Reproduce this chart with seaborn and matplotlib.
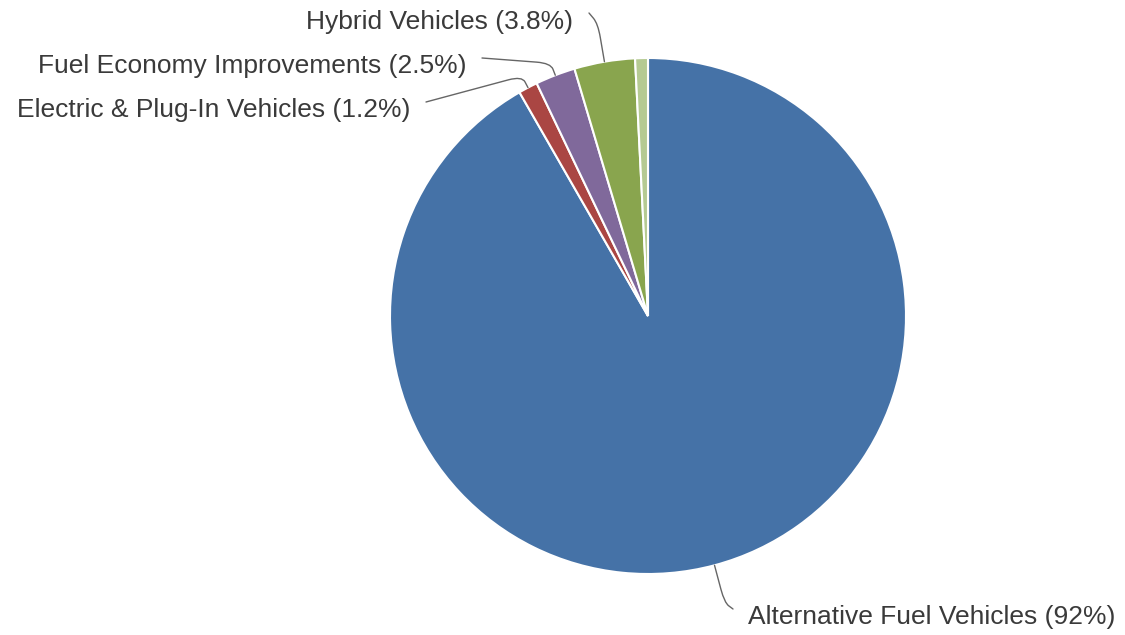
import numpy as np
import matplotlib
matplotlib.use("Agg")
import matplotlib.pyplot as plt
from matplotlib.path import Path
from matplotlib.patches import PathPatch
import seaborn as sns

# ---- data ----
categories = ["Alternative Fuel Vehicles", "Electric & Plug-In Vehicles",
              "Fuel Economy Improvements", "Hybrid Vehicles", "Other"]
shares = [91.7, 1.2, 2.5, 3.8, 0.8]
label_texts = ["Alternative Fuel Vehicles (92%)", "Electric & Plug-In Vehicles (1.2%)",
               "Fuel Economy Improvements (2.5%)", "Hybrid Vehicles (3.8%)", None]
colors = ["#4572A7", "#AA4643", "#80699B", "#89A54E", "#B5CA92"]

sns.set_theme(style="white")
plt.rcParams["font.family"] = ["Liberation Sans", "DejaVu Sans"]

W, H = 1125, 635
fig = plt.figure(figsize=(W / 100, H / 100), dpi=100)
ax = fig.add_axes([0, 0, 1, 1])

# pixel layout of the pie
cx, cy, R = 648, 316, 258

wedges, _ = ax.pie(shares, colors=colors, startangle=90, counterclock=False,
                   radius=1.0, center=(0, 0), frame=True,
                   wedgeprops=dict(edgecolor="white", linewidth=1.5))
ax.set_xlim(-cx / R, (W - cx) / R)
ax.set_ylim(-(H - cy) / R, cy / R)
ax.set_aspect("equal")
ax.axis("off")

def px(x, y):
    return (x - cx) / R, (cy - y) / R

# label layout (pixel anchors), elbow radii, connector start offsets (px)
label_pos = [(748, 617, "left"), (410, 110, "right"), (467, 66, "right"), (573, 22, "right"), None]
elbow_r = [1.15, 1.05, 1.05, 1.15, None]
start_off = [(-15, 8), (16, 8), (15, 8), (16, 9), None]
corner = 14 / R

def connector(S, C, E):
    S, C, E = map(np.asarray, (S, C, E))
    d1 = S - C
    d2 = E - C
    r1 = min(corner, 0.5 * np.linalg.norm(d1))
    r2 = min(corner, 0.5 * np.linalg.norm(d2))
    P1 = C + d1 / np.linalg.norm(d1) * r1
    P2 = C + d2 / np.linalg.norm(d2) * r2
    verts = [S, P1, C, P2, E]
    codes = [Path.MOVETO, Path.LINETO, Path.CURVE3, Path.CURVE3, Path.LINETO]
    return PathPatch(Path(verts, codes), fill=False, edgecolor="#666666", lw=1.0,
                     capstyle="round", joinstyle="round")

for w, txt, pos, er, so in zip(wedges, label_texts, label_pos, elbow_r, start_off):
    if txt is None:
        continue
    mid = np.deg2rad((w.theta1 + w.theta2) / 2)
    E = (np.cos(mid), np.sin(mid))
    C = (er * np.cos(mid), er * np.sin(mid))
    tx, ty = px(pos[0], pos[1])
    ax.text(tx, ty, txt, ha=pos[2], va="center", fontsize=19, color="#3a3a3a")
    S = (tx + so[0] / R, ty + so[1] / R)
    ax.add_patch(connector(S, C, E))

fig.savefig("out.png", dpi=100)
